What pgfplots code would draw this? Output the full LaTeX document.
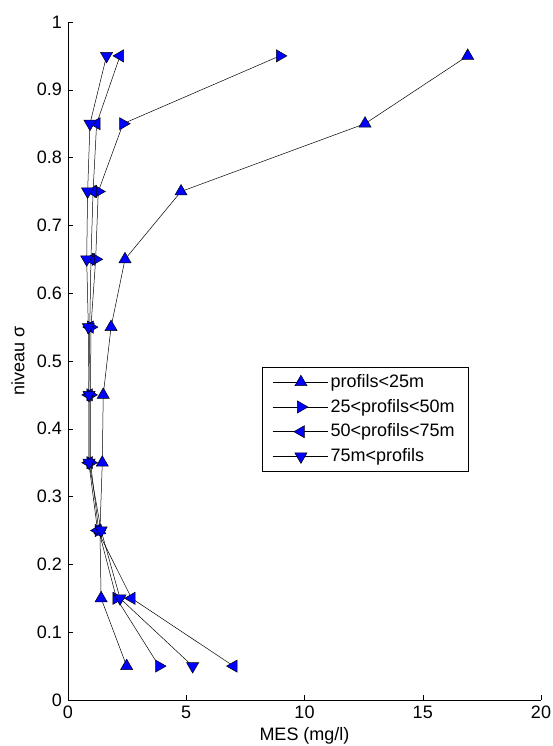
\documentclass[border=0pt]{standalone}
\usepackage{fontspec}
\setmainfont{Liberation Sans}
\usepackage{pgfplots}
\pgfplotsset{compat=1.18}
\begin{document}
\fontsize{18pt}{21pt}\selectfont
\begin{tikzpicture}
\useasboundingbox (-68pt,-46pt) rectangle (484pt,700pt);
\begin{axis}[
  scale only axis,
  width=473pt, height=678pt,
  at={(0,0)}, anchor=south west,
  xmin=0, xmax=20, ymin=0, ymax=1,
  axis x line*=bottom, axis y line*=left,
  xtick={0,5,10,15,20},
  ytick={0,0.1,0.2,0.3,0.4,0.5,0.6,0.7,0.8,0.9,1},
  yticklabels={0,0.1,0.2,0.3,0.4,0.5,0.6,0.7,0.8,0.9,1},
  tick align=inside,
  major tick length=5pt,
  tick style={black, line width=0.5pt},
  axis line style={black, line width=0.6pt},
  /pgf/number format/assume math mode=true,
  ticklabel style={font=\fontsize{18pt}{21pt}\selectfont},
  label style={font=\fontsize{18pt}{21pt}\selectfont},
  xlabel={MES (mg/l)},
  ylabel={niveau σ},
  xlabel style={yshift=4pt},
  ylabel style={yshift=0pt},
  legend style={at={(0.41,0.491)}, anchor=north west, draw=black, line width=0.5pt,
     font=\fontsize{18pt}{21pt}\selectfont, row sep=5pt, inner xsep=11pt, inner ysep=5pt,
     cells={anchor=west}},
  legend image code/.code={\draw[mark repeat=2,mark phase=2] plot coordinates {(0pt,0pt) (27.5pt,0pt) (55pt,0pt)};},
  clip=false,
]
\addplot[black, line width=0.5pt, mark=triangle*, mark size=7pt,
  mark options={fill=blue, draw=black, line width=0.5pt}] coordinates {
(2.48,0.05) (1.40,0.15) (1.35,0.25) (1.45,0.35) (1.49,0.45) (1.82,0.55) (2.41,0.65) (4.78,0.75) (12.56,0.85) (16.9,0.95)};
\addlegendentry{profils<25m}
\addplot[black, line width=0.5pt, mark=triangle*, mark size=7pt,
  mark options={fill=blue, draw=black, line width=0.5pt, rotate=-90}] coordinates {
(3.85,0.05) (2.05,0.15) (1.30,0.25) (0.95,0.35) (0.95,0.45) (0.97,0.55) (1.17,0.65) (1.28,0.75) (2.33,0.85) (8.96,0.95)};
\addlegendentry{25<profils<50m}
\addplot[black, line width=0.5pt, mark=triangle*, mark size=7pt,
  mark options={fill=blue, draw=black, line width=0.5pt, rotate=90}] coordinates {
(7.0,0.05) (2.69,0.15) (1.25,0.25) (0.88,0.35) (0.88,0.45) (0.92,0.55) (0.97,0.65) (1.06,0.75) (1.21,0.85) (2.2,0.95)};
\addlegendentry{50<profils<75m}
\addplot[black, line width=0.5pt, mark=triangle*, mark size=7pt,
  mark options={fill=blue, draw=black, line width=0.5pt, rotate=180}] coordinates {
(5.27,0.05) (2.2,0.15) (1.40,0.25) (0.89,0.35) (0.89,0.45) (0.86,0.55) (0.79,0.65) (0.83,0.75) (0.93,0.85) (1.63,0.95)};
\addlegendentry{75m<profils}
\end{axis}
\end{tikzpicture}
\end{document}
